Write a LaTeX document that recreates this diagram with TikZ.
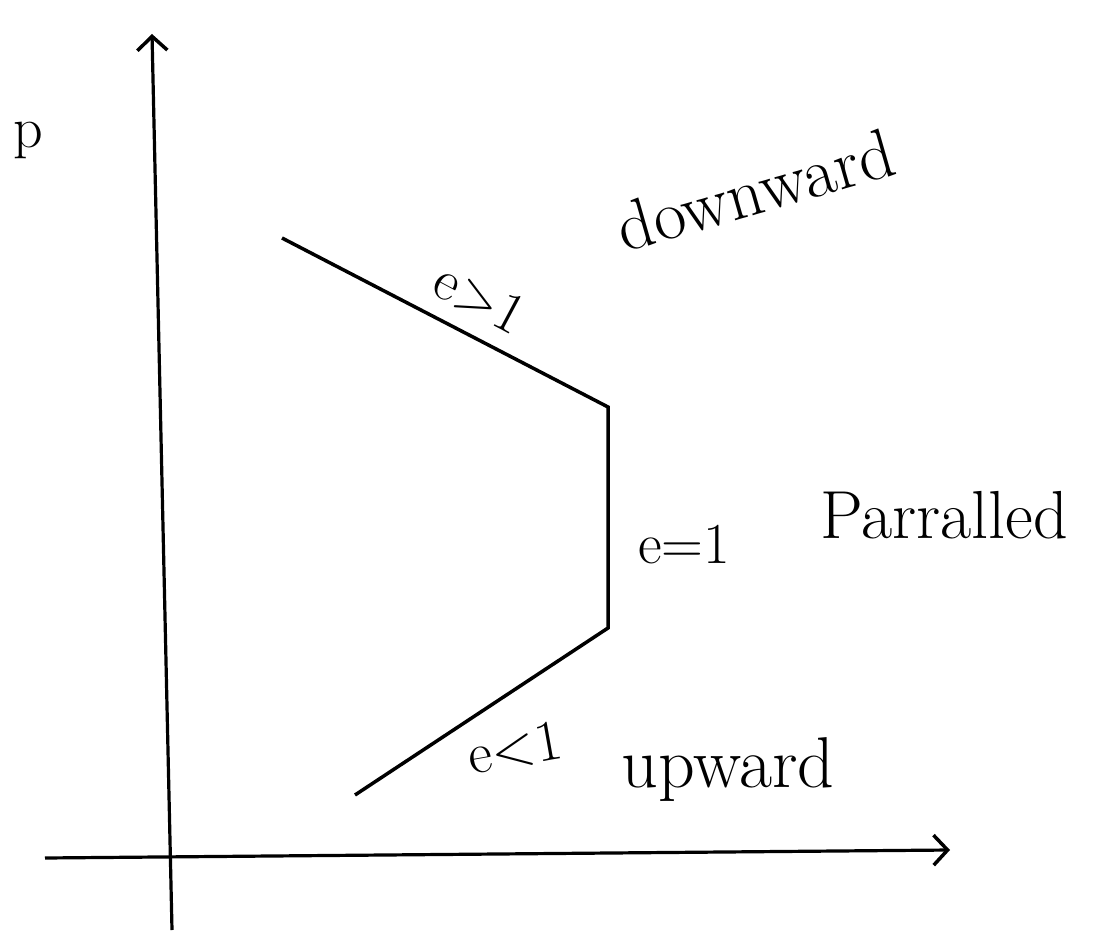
\documentclass[tikz,border=0pt]{standalone}
\usepackage{fontspec}
\usetikzlibrary{arrows.meta}
\begin{document}
\begin{tikzpicture}[x=1pt,y=-1pt,
  axis/.style={line width=3.2pt,-{Straight Barb[length=14pt,width=30pt,line width=3.5pt]}},
  curve/.style={line width=3.5pt,line join=miter},
  lbl/.style={font=\fontsize{58}{66}\selectfont,inner sep=0pt}]
\useasboundingbox (0,0) rectangle (1119,936);
\coordinate (ybot) at (172,930);
\coordinate (ytop) at (152,34);
\coordinate (xleft) at (45,858);
\coordinate (xright) at (950,850);
\draw[axis] (ybot) -- (ytop);
\draw[axis] (xleft) -- (xright);
\coordinate (a) at (282,238);
\coordinate (b) at (608,407);
\coordinate (c) at (608,628);
\coordinate (d) at (355,795);
\draw[curve] (a) -- (b) -- (c) -- (d);
\node[lbl] (p) at (28,140) {p};
\node[lbl,rotate=-28] (egt) at (480,298) {e>1};
\node[lbl,rotate=16,font=\fontsize{70}{78}\selectfont] (down) at (755,190) {downward};
\node[lbl,anchor=west] (eq) at (638,545) {e=1};
\node[lbl,anchor=west,font=\fontsize{68}{76}\selectfont] (par) at (820,515) {Parralled};
\node[lbl,rotate=10] (elt) at (515,748) {e<1};
\node[lbl,font=\fontsize{72}{80}\selectfont] (up) at (728,770) {upward};
\end{tikzpicture}
\end{document}
